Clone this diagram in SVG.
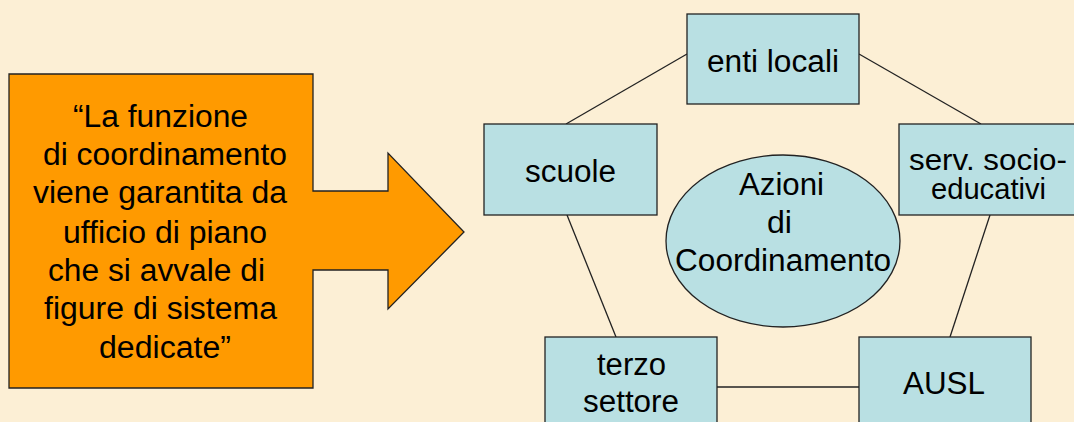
<svg xmlns="http://www.w3.org/2000/svg" width="1074" height="422" viewBox="0 0 1074 422">
<style>
.t{font-family:"Liberation Sans",Arial,sans-serif;font-size:31px;fill:#000}
.s{font-size:29px}
.box{fill:#b9e0e3;stroke:#222;stroke-width:1.3}
.con{stroke:#222;stroke-width:1.3;fill:none}
</style>
<rect width="1074" height="422" fill="#fcefd5"/>
<g id="arrow-note">
<polygon points="9,74 313,74 313,191 388,191 388,153 464,232 388,309 388,270 313,270 313,388 9,388" fill="#ff9a00" stroke="#222" stroke-width="1.3"/>
<text class="t" x="73" y="127" textLength="175" lengthAdjust="spacingAndGlyphs">“La funzione</text>
<text class="t" x="43" y="165" textLength="244" lengthAdjust="spacingAndGlyphs">di coordinamento</text>
<text class="t" x="33" y="203" textLength="254" lengthAdjust="spacingAndGlyphs">viene garantita da</text>
<text class="t" x="63" y="243" textLength="204" lengthAdjust="spacingAndGlyphs">ufficio di piano</text>
<text class="t" x="48" y="281" textLength="217" lengthAdjust="spacingAndGlyphs">che si avvale di</text>
<text class="t" x="44" y="319" textLength="233" lengthAdjust="spacingAndGlyphs">figure di sistema</text>
<text class="t" x="99" y="358" textLength="132" lengthAdjust="spacingAndGlyphs">dedicate”</text>
</g>
<g id="connectors">
<line class="con" x1="566" y1="124" x2="687" y2="54"/>
<line class="con" x1="859" y1="54" x2="981" y2="124"/>
<line class="con" x1="567" y1="215" x2="616" y2="337"/>
<line class="con" x1="990" y1="215" x2="950" y2="337"/>
<line class="con" x1="717" y1="387" x2="859" y2="387"/>
</g>
<g id="enti-locali">
<rect class="box" x="687" y="14" width="172" height="90"/>
<text class="t" x="707" y="72" textLength="132" lengthAdjust="spacingAndGlyphs">enti locali</text>
</g>
<g id="scuole">
<rect class="box" x="484" y="124" width="173" height="91"/>
<text class="t" x="525" y="182" textLength="91" lengthAdjust="spacingAndGlyphs">scuole</text>
</g>
<g id="serv-socio-educativi">
<rect class="box" x="899" y="124" width="178" height="91"/>
<text class="t s" x="909" y="170" textLength="158" lengthAdjust="spacingAndGlyphs">serv. socio-</text>
<text class="t s" x="931" y="199" textLength="115" lengthAdjust="spacingAndGlyphs">educativi</text>
</g>
<g id="azioni">
<ellipse cx="783" cy="241" rx="117" ry="86" fill="#b9e0e3" stroke="#222" stroke-width="1.3"/>
<text class="t" x="739" y="195" textLength="85" lengthAdjust="spacingAndGlyphs">Azioni</text>
<text class="t" x="767" y="233" textLength="25" lengthAdjust="spacingAndGlyphs">di</text>
<text class="t" x="675" y="271" textLength="216" lengthAdjust="spacingAndGlyphs">Coordinamento</text>
</g>
<g id="terzo-settore">
<rect class="box" x="545" y="337" width="172" height="91"/>
<text class="t" x="597" y="375" textLength="69" lengthAdjust="spacingAndGlyphs">terzo</text>
<text class="t" x="583" y="412" textLength="96" lengthAdjust="spacingAndGlyphs">settore</text>
</g>
<g id="ausl">
<rect class="box" x="859" y="337" width="172" height="91"/>
<text class="t" x="903" y="394" textLength="82" lengthAdjust="spacingAndGlyphs">AUSL</text>
</g>
</svg>
